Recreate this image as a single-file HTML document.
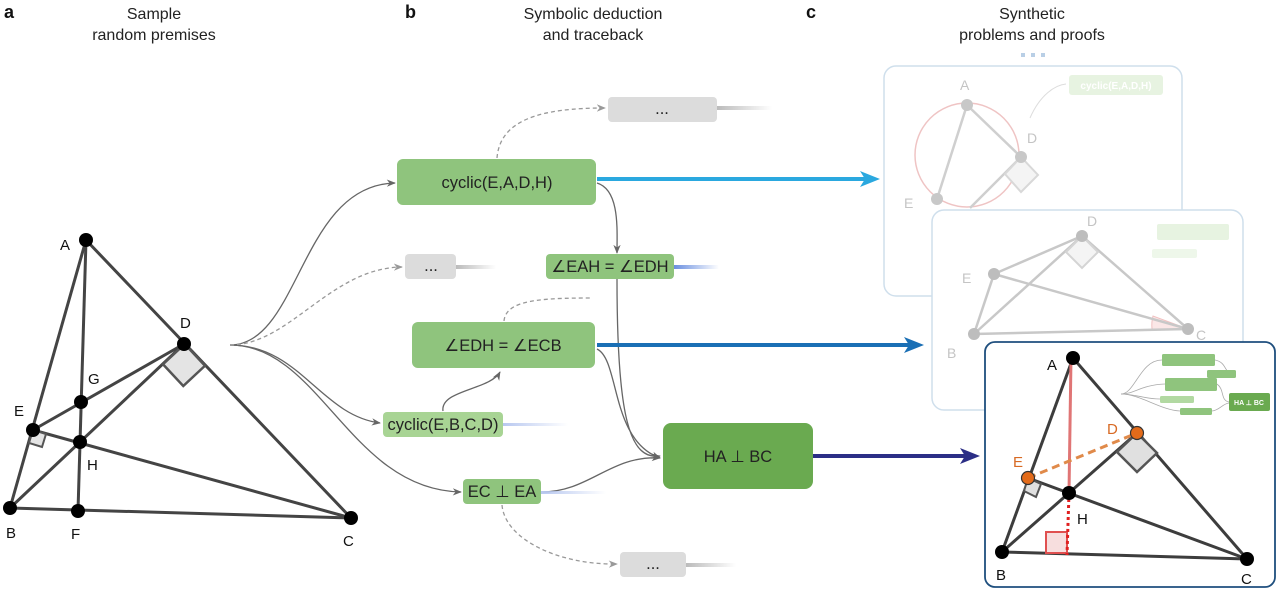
<!DOCTYPE html>
<html><head><meta charset="utf-8"><style>
body{margin:0;background:#fff;}
svg{display:block;font-family:"Liberation Sans",sans-serif;}
.t{font-family:"Liberation Sans",sans-serif;font-size:16px;fill:#222;text-anchor:middle}
.lb{font-family:"Liberation Sans",sans-serif;font-weight:bold;font-size:18px;fill:#111}
.n{font-size:16.5px;fill:#222;text-anchor:middle}
.pl{font-size:15px;fill:#111}
</style></head><body>
<svg width="1280" height="593" viewBox="0 0 1280 593" xmlns="http://www.w3.org/2000/svg">
<defs>
<marker id="ar" viewBox="0 0 10 10" refX="9" refY="5" markerWidth="7" markerHeight="7" orient="auto"><path d="M0,1 L10,5 L0,9 L3,5z" fill="#666"/></marker>
<marker id="arl" viewBox="0 0 10 10" refX="9" refY="5" markerWidth="7" markerHeight="7" orient="auto"><path d="M0,1 L10,5 L0,9 L3,5z" fill="#999"/></marker>
<linearGradient id="gg" x1="0" x2="1"><stop offset="0" stop-color="#bbb"/><stop offset="1" stop-color="#bbb" stop-opacity="0"/></linearGradient>
<linearGradient id="gb" x1="0" x2="1"><stop offset="0" stop-color="#6a8fe0"/><stop offset="1" stop-color="#6a8fe0" stop-opacity="0"/></linearGradient>
<linearGradient id="gb2" x1="0" x2="1"><stop offset="0" stop-color="#b8c8f0"/><stop offset="1" stop-color="#b8c8f0" stop-opacity="0"/></linearGradient>
</defs>
<text class="lb" x="4" y="18">a</text>
<text class="t" x="154" y="19">Sample</text>
<text class="t" x="154" y="40">random premises</text>
<text class="lb" x="405" y="18">b</text>
<text class="t" x="593" y="19">Symbolic deduction</text>
<text class="t" x="593" y="40">and traceback</text>
<text class="lb" x="806" y="18">c</text>
<text class="t" x="1032" y="19">Synthetic</text>
<text class="t" x="1032" y="40">problems and proofs</text>
<g fill="#b9cfe6"><rect x="1021" y="53" width="4" height="4"/><rect x="1031" y="53" width="4" height="4"/><rect x="1041" y="53" width="4" height="4"/></g>

<g stroke="#444" stroke-width="3" fill="none">
<line x1="86" y1="240" x2="10" y2="508"/>
<line x1="86" y1="240" x2="351" y2="518"/>
<line x1="86" y1="240" x2="78" y2="511"/>
<line x1="10" y1="508" x2="184" y2="344"/>
<line x1="33" y1="430" x2="184" y2="344"/>
<line x1="33" y1="430" x2="351" y2="518"/>
<line x1="10" y1="508" x2="351" y2="518"/>
</g>
<polygon points="184,344 163,365 184,386 205,365" fill="#e4e4e4" stroke="#555" stroke-width="2.5" transform="rotate(2 184 365)"/>
<polygon points="33,430 46,434 42,447 29,443" fill="#e4e4e4" stroke="#555" stroke-width="2"/>
<g fill="#000"><circle cx="86" cy="240" r="7"/><circle cx="184" cy="344" r="7"/><circle cx="81" cy="402" r="7"/><circle cx="33" cy="430" r="7"/><circle cx="80" cy="442" r="7"/><circle cx="10" cy="508" r="7"/><circle cx="78" cy="511" r="7"/><circle cx="351" cy="518" r="7"/></g>
<g class="pl"><text x="60" y="250">A</text><text x="180" y="328">D</text><text x="88" y="384">G</text><text x="14" y="416">E</text><text x="87" y="470">H</text><text x="6" y="538">B</text><text x="71" y="539">F</text><text x="343" y="546">C</text></g>

<g fill="none" stroke="#666" stroke-width="1.3">
<path d="M230,345 C300,345 300,185 395,183" marker-end="url(#ar)"/>
<path d="M230,345 C300,345 320,415 380,423" marker-end="url(#ar)"/>
<path d="M230,345 C320,345 350,490 461,492" marker-end="url(#ar)"/>
<path d="M230,345 C290,345 330,268 402,267" stroke="#999" stroke-dasharray="4,3" marker-end="url(#arl)"/>
<path d="M497,158 C500,120 540,108 605,108" stroke="#999" stroke-dasharray="4,3" marker-end="url(#arl)"/>
<path d="M504,321 C506,300 540,298 592,298" stroke="#999" stroke-dasharray="4,3"/>
<path d="M502,505 C505,540 560,565 617,564" stroke="#999" stroke-dasharray="4,3" marker-end="url(#arl)"/>
<path d="M597,183 C620,190 617,230 617,253" marker-end="url(#ar)"/>
<path d="M617,279 C617,420 630,460 660,456" marker-end="url(#ar)"/>
<path d="M597,349 C620,360 610,440 660,458" marker-end="url(#ar)"/>
<path d="M443,411 C440,390 490,390 500,372" marker-end="url(#ar)"/>
<path d="M541,492 C590,492 610,455 660,458" marker-end="url(#ar)"/>
</g>

<rect x="717" y="106" width="55" height="4" fill="url(#gg)"/>
<rect x="456" y="265" width="40" height="4" fill="url(#gg)"/>
<rect x="686" y="563" width="50" height="4" fill="url(#gg)"/>
<rect x="674" y="265" width="45" height="4" fill="url(#gb)"/>
<rect x="503" y="423" width="65" height="3" fill="url(#gb2)"/>
<rect x="541" y="491" width="65" height="3" fill="url(#gb2)"/>

<rect x="608" y="97" width="109" height="25" rx="4" fill="#dcdcdc"/><text class="n" x="662" y="114">...</text>
<rect x="397" y="159" width="199" height="46" rx="6" fill="#8fc47d"/><text class="n" x="497" y="188">cyclic(E,A,D,H)</text>
<rect x="405" y="254" width="51" height="25" rx="4" fill="#dcdcdc"/><text class="n" x="431" y="271">...</text>
<rect x="546" y="254" width="128" height="25" rx="4" fill="#8fc47d"/><text class="n" x="610" y="272">∠EAH = ∠EDH</text>
<rect x="412" y="322" width="183" height="46" rx="6" fill="#8fc47d"/><text class="n" x="503" y="351">∠EDH = ∠ECB</text>
<rect x="383" y="412" width="120" height="25" rx="4" fill="#a8d494"/><text class="n" x="443" y="430">cyclic(E,B,C,D)</text>
<rect x="663" y="423" width="150" height="66" rx="8" fill="#6aaa50"/><text class="n" x="738" y="462">HA ⊥ BC</text>
<rect x="463" y="479" width="78" height="25" rx="4" fill="#8fc47d"/><text class="n" x="502" y="497">EC ⊥ EA</text>
<rect x="620" y="552" width="66" height="25" rx="4" fill="#dcdcdc"/><text class="n" x="653" y="569">...</text>

<line x1="597" y1="179" x2="866" y2="179" stroke="#2aa8df" stroke-width="4"/>
<path d="M860,171 L880,179 L860,187 L865,179z" fill="#2aa8df"/>
<line x1="597" y1="345" x2="910" y2="345" stroke="#1a6fb5" stroke-width="4"/>
<path d="M904,337 L924,345 L904,353 L909,345z" fill="#1a6fb5"/>
<line x1="813" y1="456" x2="966" y2="456" stroke="#2b2e86" stroke-width="4"/>
<path d="M960,448 L980,456 L960,464 L965,456z" fill="#2b2e86"/>

<rect x="884" y="66" width="298" height="230" rx="12" fill="#fff" stroke="#cfdfec" stroke-width="1.5"/>
<circle cx="967" cy="155" r="52" fill="none" stroke="#efc4c4" stroke-width="1.5"/>
<g stroke="#cfcfcf" stroke-width="2.5" fill="none"><line x1="967" y1="105" x2="937" y2="199"/><line x1="967" y1="105" x2="1021" y2="157"/><line x1="1021" y1="157" x2="970" y2="208"/></g>
<polygon points="1021,157 1005,174 1021,192 1038,175" fill="#f4f4f4" stroke="#d8d8d8" stroke-width="2"/>
<g fill="#c8c8c8"><circle cx="967" cy="105" r="6"/><circle cx="1021" cy="157" r="6"/><circle cx="937" cy="199" r="6"/></g>
<g font-size="14" fill="#c4c4c4"><text x="960" y="90">A</text><text x="1027" y="143">D</text><text x="904" y="208">E</text></g>
<path d="M1030,118 C1040,95 1055,85 1066,84" stroke="#ddd" fill="none"/>
<rect x="1069" y="75" width="94" height="20" rx="3" fill="#e7f3e1"/><text x="1116" y="89" font-size="10" font-weight="bold" fill="#fff" text-anchor="middle">cyclic(E,A,D,H)</text>

<rect x="932" y="210" width="311" height="200" rx="12" fill="#fff" stroke="#cfdfec" stroke-width="1.5"/>
<path d="M1188,329 L1153,316 A36,36 0 0,0 1152,329z" fill="#fbe7e7" stroke="#f0c0c0"/>
<g stroke="#c8c8c8" stroke-width="2.5" fill="none"><line x1="1082" y1="236" x2="994" y2="274"/><line x1="1082" y1="236" x2="974" y2="334"/><line x1="1082" y1="236" x2="1188" y2="329"/><line x1="994" y1="274" x2="1188" y2="329"/><line x1="994" y1="274" x2="974" y2="334"/><line x1="974" y1="334" x2="1188" y2="329"/></g>
<polygon points="1082,236 1066,252 1082,268 1098,252" fill="#f4f4f4" stroke="#d4d4d4" stroke-width="2"/>
<g fill="#bdbdbd"><circle cx="1082" cy="236" r="6"/><circle cx="994" cy="274" r="6"/><circle cx="974" cy="334" r="6"/><circle cx="1188" cy="329" r="6"/></g>
<g font-size="14" fill="#c4c4c4"><text x="1087" y="226">D</text><text x="962" y="283">E</text><text x="1196" y="340">C</text><text x="947" y="358">B</text></g>
<rect x="1157" y="224" width="72" height="16" rx="2" fill="#e7f3e1"/>
<rect x="1152" y="249" width="45" height="9" rx="2" fill="#eef7ea"/>

<rect x="985" y="342" width="290" height="245" rx="10" fill="#fff" stroke="#1f4f7e" stroke-width="1.8"/>
<g stroke="#3d3d3d" stroke-width="3" fill="none">
<line x1="1073" y1="358" x2="1002" y2="552"/><line x1="1073" y1="358" x2="1247" y2="559"/>
<line x1="1002" y1="552" x2="1247" y2="559"/><line x1="1002" y1="552" x2="1137" y2="433"/>
<line x1="1028" y1="478" x2="1247" y2="559"/></g>
<polygon points="1137,433 1117,452 1137,472 1157,453" fill="#e0e0e0" stroke="#555" stroke-width="2.5"/>
<polygon points="1028,478 1041,484 1036,497 1024,491" fill="#e0e0e0" stroke="#555" stroke-width="2"/>
<rect x="1046" y="532" width="21" height="21" fill="#f7dede" stroke="#e05050" stroke-width="2"/>
<line x1="1071" y1="358" x2="1069" y2="493" stroke="#e07575" stroke-width="3"/>
<line x1="1069" y1="493" x2="1067" y2="555" stroke="#e02020" stroke-width="3" stroke-dasharray="3,3"/>
<line x1="1028" y1="478" x2="1137" y2="433" stroke="#e08a4a" stroke-width="3" stroke-dasharray="8,5"/>
<g fill="#000"><circle cx="1073" cy="358" r="7"/><circle cx="1069" cy="493" r="7"/><circle cx="1002" cy="552" r="7"/><circle cx="1247" cy="559" r="7"/></g>
<g fill="#e36b1a" stroke="#333" stroke-width="1.2"><circle cx="1137" cy="433" r="6.5"/><circle cx="1028" cy="478" r="6.5"/></g>
<g class="pl"><text x="1047" y="370">A</text><text x="1077" y="524">H</text><text x="996" y="580">B</text><text x="1241" y="584">C</text></g>
<g font-size="15" fill="#d86a24"><text x="1107" y="434">D</text><text x="1013" y="467">E</text></g>
<g fill="none" stroke="#aaa" stroke-width="0.8">
<path d="M1121,394 C1135,394 1140,360 1162,360"/><path d="M1121,394 C1135,394 1140,385 1165,384"/>
<path d="M1121,394 C1135,394 1145,399 1160,399"/><path d="M1121,394 C1140,394 1160,410 1180,411"/>
<path d="M1215,360 C1225,362 1225,370 1227,370"/><path d="M1217,384 C1225,390 1220,400 1229,402"/>
<path d="M1212,411 C1220,410 1222,404 1229,403"/></g>
<rect x="1162" y="354" width="53" height="12" rx="1.5" fill="#8fc47d"/>
<rect x="1207" y="370" width="29" height="8" rx="1.5" fill="#8fc47d"/>
<rect x="1165" y="378" width="52" height="13" rx="1.5" fill="#8fc47d"/>
<rect x="1160" y="396" width="34" height="7" rx="1.5" fill="#b2d9a2"/>
<rect x="1180" y="408" width="32" height="7" rx="1.5" fill="#8fc47d"/>
<rect x="1229" y="393" width="41" height="18" rx="2" fill="#6aaa50"/>
<text x="1249" y="405" font-size="7" font-weight="bold" fill="#fff" text-anchor="middle">HA ⊥ BC</text>
</svg>
</body></html>
